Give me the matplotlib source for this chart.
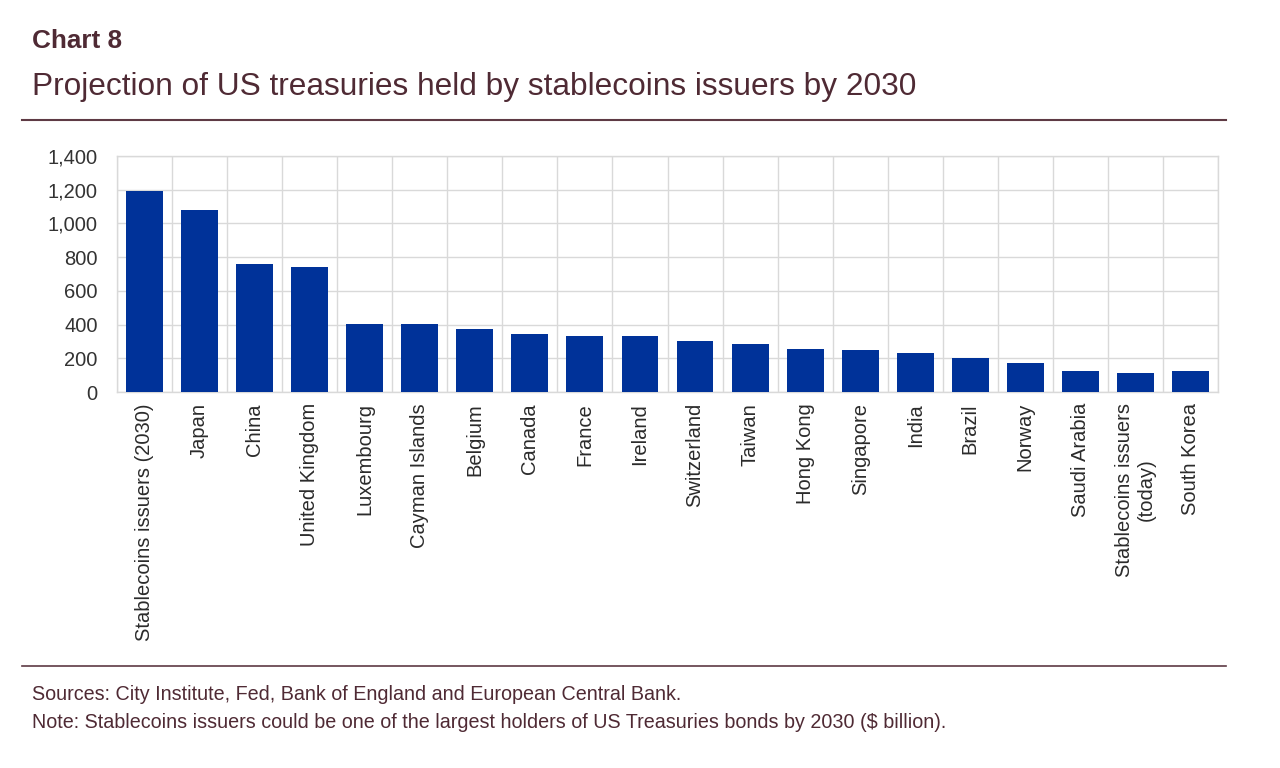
import matplotlib
matplotlib.use("Agg")
import matplotlib.pyplot as plt
from matplotlib.ticker import FuncFormatter

categories = ["Stablecoins issuers (2030)", "Japan", "China", "United Kingdom",
              "Luxembourg", "Cayman Islands", "Belgium", "Canada", "France",
              "Ireland", "Switzerland", "Taiwan", "Hong Kong", "Singapore",
              "India", "Brazil", "Norway", "Saudi Arabia",
              "Stablecoins issuers\n(today)", "South Korea"]
values = [1195, 1080, 760, 740, 405, 405, 375, 347, 330, 330, 302, 287, 257,
          247, 230, 202, 174, 127, 115, 127]
yticks = [0, 200, 400, 600, 800, 1000, 1200, 1400]

title = "Chart 8"
subtitle = "Projection of US treasuries held by stablecoins issuers by 2030"
source = "Sources: City Institute, Fed, Bank of England and European Central Bank."
note = "Note: Stablecoins issuers could be one of the largest holders of US Treasuries bonds by 2030 ($ billion)."

plt.rcParams["font.family"] = ["Liberation Sans", "DejaVu Sans"]

W, H = 1280, 768
fig = plt.figure(figsize=(W / 100, H / 100), dpi=100)
fig.patch.set_facecolor("white")

maroon = "#4f2a34"
line_col = "#5e3a44"
bar_col = "#003299"
grid_col = "#d9d9d9"

ax = fig.add_axes([117 / W, 1 - 392 / H, (1218 - 117) / W, (392 - 156) / H])
x = list(range(len(categories)))
ax.bar(x, values, width=0.67, color=bar_col, zorder=3)
ax.set_xlim(-0.5, len(categories) - 0.5)
ax.set_ylim(0, 1400)
ax.set_yticks(yticks)
ax.yaxis.set_major_formatter(FuncFormatter(lambda v, p: f"{int(v):,}"))
ax.set_xticks(x)
ax.set_xticklabels(categories, rotation=90, ha="center", va="top",
                   multialignment="center", fontsize=14.5, color="#2b2b2b")
ax.tick_params(axis="both", length=0)
ax.tick_params(axis="x", pad=8)
ax.tick_params(axis="y", pad=14, labelsize=14.5, labelcolor="#333333")
ax.grid(axis="y", color=grid_col, linewidth=1, zorder=0)
for b in range(len(categories) + 1):
    ax.axvline(b - 0.5, color=grid_col, linewidth=1, zorder=0)
for s in ax.spines.values():
    s.set_color(grid_col)
    s.set_linewidth(1)

fig.text(32 / W, 1 - 41 / H, title, fontsize=18.8, fontweight="bold",
         color=maroon, va="center", ha="left")
fig.text(32 / W, 1 - 87 / H, subtitle, fontsize=22.8, color=maroon,
         va="center", ha="left")
fig.text(32 / W, 1 - 695 / H, source, fontsize=14.2, color=maroon,
         va="center", ha="left")
fig.text(32 / W, 1 - 722 / H, note, fontsize=14.2, color=maroon,
         va="center", ha="left")

fig.add_artist(plt.Line2D([22 / W, 1226 / W], [1 - 120 / H, 1 - 120 / H],
                          color=line_col, linewidth=1.5, transform=fig.transFigure))
fig.add_artist(plt.Line2D([22 / W, 1226 / W], [1 - 666 / H, 1 - 666 / H],
                          color=line_col, linewidth=1.2, transform=fig.transFigure))

fig.savefig("out.png", dpi=100, facecolor="white")
